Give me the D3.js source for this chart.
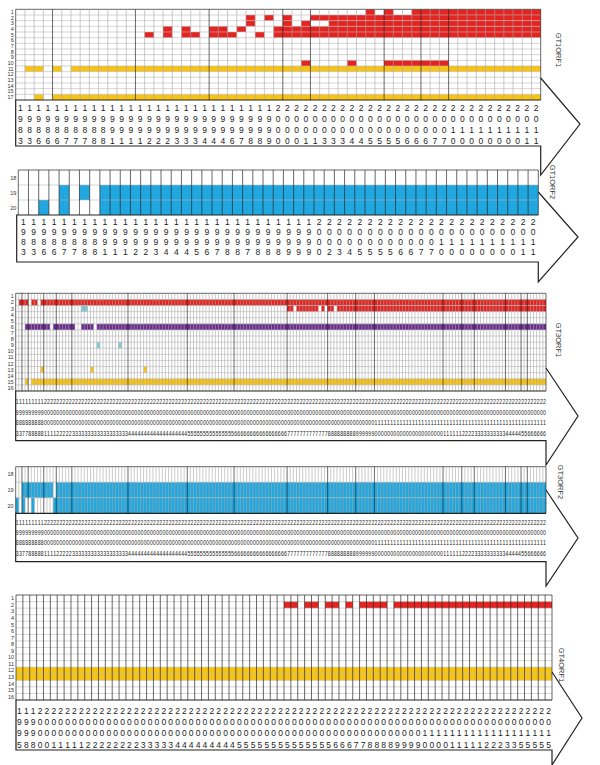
<!DOCTYPE html>
<html>
<head>
<meta charset="utf-8">
<script src="https://cdn.jsdelivr.net/npm/d3@7"></script>
<style>
  body { margin: 0; background: #fff; }
  svg { display: block; font-family: "Liberation Sans", Arial, sans-serif; }
</style>
</head>
<body>
<div class="layout"></div>
<script>
// ---- data ----
// cells are [row label, colour, first column, last column]

const gt1orf1Rows = ["1","2","3","4","5","6","7","8","9","10","11","12","13","14","15","17"];
const gt1orf1Years = [
  1983,1983,1986,1986,1986,1987,1987,1987,1988,1988,
  1991,1991,1991,1991,1992,1992,1992,1993,1993,1993,
  1994,1994,1994,1996,1997,1998,1998,1999,2000,2000,
  2000,2001,2001,2003,2003,2003,2004,2004,2005,2005,
  2005,2005,2006,2006,2006,2007,2007,2010,2010,2010,
  2010,2010,2010,2010,2010,2011,2011];
const gt1orf1Cells = [
  ["1","red",38,38], ["1","red",40,40], ["1","red",43,56],
  ["2","red",25,25], ["2","red",27,27], ["2","red",29,29], ["2","red",32,56],
  ["3","red",25,25], ["3","red",29,29], ["3","red",31,31], ["3","red",34,56],
  ["4","red",16,16], ["4","red",18,18], ["4","red",21,22], ["4","red",24,24], ["4","red",28,56],
  ["5","red",14,14], ["5","red",16,16], ["5","red",18,19], ["5","red",21,23], ["5","red",26,26], ["5","red",28,56],
  ["10","red",31,31], ["10","red",36,36], ["10","red",40,46],
  ["11","yellow",1,2], ["11","yellow",4,4], ["11","yellow",6,56],
  ["17","yellow",2,2], ["17","yellow",4,56]
];
const gt1orf1DarkLines = [0, 4, 13, 21, 29, 32, 40, 44, 47, 57];

const gt1orf2Rows = ["18","19","20"];
const gt1orf2Years = [
  1983,1983,1986,1986,1987,1987,1988,1988,1991,1991,
  1991,1992,1992,1993,1994,1994,1994,1995,1996,1997,
  1998,1998,1997,1998,1998,1998,1999,1999,1999,2000,
  2002,2003,2004,2005,2005,2005,2005,2006,2006,2007,
  2007,2010,2010,2010,2010,2010,2010,2010,2010,2011,
  2011];
const gt1orf2Cells = [
  ["19","blue",4,4], ["19","blue",6,6], ["19","blue",8,50],
  ["20","blue",2,2], ["20","blue",4,4], ["20","blue",8,50]
];

const gt3orf1Rows = ["1","2","3","4","5","6","7","8","9","10","11","12","13","14","15","16"];
const gt3orf1Years = [
  1983,1983,1987,1987,1988,1988,1988,1988,1988,2001,
  2001,2001,2001,2002,2002,2002,2002,2002,2003,2003,
  2003,2003,2003,2003,2003,2003,2003,2003,2003,2003,
  2003,2003,2003,2003,2003,2003,2004,2004,2004,2004,
  2004,2004,2004,2004,2004,2004,2004,2004,2004,2004,
  2004,2004,2004,2004,2004,2005,2005,2005,2005,2005,
  2005,2005,2005,2005,2005,2005,2005,2005,2005,2005,
  2006,2006,2006,2006,2006,2006,2006,2006,2006,2006,
  2006,2006,2006,2006,2006,2006,2006,2007,2007,2007,
  2007,2007,2007,2007,2007,2007,2007,2007,2007,2007,
  2008,2008,2008,2008,2008,2008,2008,2008,2008,2009,
  2009,2009,2009,2009,2009,2010,2010,2010,2010,2010,
  2010,2010,2010,2010,2010,2010,2010,2010,2010,2010,
  2010,2010,2010,2010,2010,2010,2010,2011,2011,2011,
  2011,2011,2011,2012,2012,2012,2012,2013,2013,2013,
  2013,2013,2013,2013,2013,2013,2013,2014,2014,2014,
  2014,2014,2015,2015,2016,2016,2016,2016,2016,2016];
const gt3orf1Cells = [
  ["2","red",1,3], ["2","red",5,6], ["2","red",8,169],
  ["3","red",87,88], ["3","red",90,96], ["3","red",98,98], ["3","red",100,101], ["3","red",103,169],
  ["3","cyan",21,22],
  ["6","purple",3,10], ["6","purple",12,18], ["6","purple",21,24], ["6","purple",26,169],
  ["9","cyan",26,26], ["9","cyan",33,33],
  ["13","yellow",8,8], ["13","yellow",24,24], ["13","yellow",41,41],
  ["15","yellow",3,3], ["15","yellow",5,169]
];

const gt3orf2Rows = ["18","19","20"];
const gt3orf2Years = gt3orf1Years;
const gt3orf2Cells = [
  ["19","blue",2,11], ["19","blue",13,169],
  ["20","blue",0,0], ["20","blue",2,2], ["20","blue",5,5], ["20","blue",12,169]
];

const gt4orf1Rows = ["1","2","3","4","5","6","7","8","9","10","11","12","13","14","15","16"];
const gt4orf1Years = [
  1995,1998,1998,2000,2000,2001,2001,2001,2001,2001,
  2002,2002,2002,2002,2002,2002,2002,2002,2003,2003,
  2003,2003,2003,2004,2004,2004,2004,2004,2004,2004,
  2004,2004,2005,2005,2005,2005,2005,2005,2005,2005,
  2005,2005,2005,2005,2005,2005,2006,2006,2006,2007,
  2007,2008,2008,2008,2008,2009,2009,2009,2009,2010,
  2010,2010,2010,2011,2011,2011,2011,2011,2012,2012,
  2012,2013,2013,2015,2015,2015,2015,2015];
const gt4orf1Cells = [
  ["2","red",39,40], ["2","red",42,43], ["2","red",45,46], ["2","red",48,48],
  ["2","red",50,53], ["2","red",55,77],
  ["12","yellow",0,77], ["13","yellow",0,77]
];

const colors = {
  red: "#e42421", yellow: "#f8c414", blue: "#20a7df",
  purple: "#6a2c8e", cyan: "#7ecbd6"
};

// ---- layout ----
const width = 600, height = 765;

const panels = [
  { name: "GT1ORF1", rows: gt1orf1Rows, years: gt1orf1Years, cells: gt1orf1Cells, dark: gt1orf1DarkLines,
    x0: 15.7, x1: 540.7, y0: 9.3, y1: 100, boxLeft: 15.7, boxBottom: 146,
    digitY: [108.3, 119, 129.5, 140.5], fs: 8.5, title: [556, 50], arrow: [78, 580, 124, 175] },
  { name: "GT1ORF2", rows: gt1orf2Rows, years: gt1orf2Years, cells: gt1orf2Cells, dark: "all",
    x0: 18.3, x1: 538.3, y0: 170, y1: 215, boxLeft: 16.7, boxBottom: 262,
    digitY: [221.7, 231.7, 241.7, 252.3], fs: 8.5, title: [550, 182], arrow: [192, 578, 237, 282] },
  { name: "GT3ORF1", rows: gt3orf1Rows, years: gt3orf1Years, cells: gt3orf1Cells, dark: "year",
    x0: 15.7, x1: 546, y0: 293.3, y1: 391, boxLeft: 15.7, boxBottom: 440.7,
    digitY: [401.5, 412, 422.5, 433], fs: 8, title: [556, 340], arrow: [368, 578, 416, 465] },
  { name: "GT3ORF2", rows: gt3orf2Rows, years: gt3orf2Years, cells: gt3orf2Cells, dark: "year",
    x0: 15.7, x1: 546, y0: 466.7, y1: 513.3, boxLeft: 15.7, boxBottom: 561.7,
    digitY: [521.7, 531.7, 542, 553], fs: 8, title: [558, 482], arrow: [490, 578, 538, 586] },
  { name: "GT4ORF1", rows: gt4orf1Rows, years: gt4orf1Years, cells: gt4orf1Cells, dark: "all",
    x0: 16, x1: 552, y0: 595, y1: 700, boxLeft: 16, boxBottom: 750,
    digitY: [711, 722, 733, 745], fs: 8.5, title: [559, 665], arrow: [672, 582, 718, 765] }
];

const svg = d3.select("div.layout")
  .append("svg")
    .attr("width", width)
    .attr("height", height);

svg.append("rect").attr("width", width).attr("height", height).attr("fill", "#fff");

panels.forEach(function (p) { drawPanel(p); });

function drawPanel(p) {
  const n = p.years.length;
  const g = svg.append("g").attr("class", p.name);

  const x = d3.scaleBand().domain(d3.range(n)).range([p.x0, p.x1]);
  const y = d3.scaleBand().domain(p.rows).range([p.y0, p.y1]);
  const bw = x.bandwidth();

  // coloured cells
  g.selectAll("rect.cell")
    .data(p.cells)
    .enter()
    .append("rect")
      .attr("class", "cell")
      .attr("x", d => x(d[2]))
      .attr("y", d => y(d[0]))
      .attr("width", d => x(d[3]) - x(d[2]) + bw)
      .attr("height", y.bandwidth())
      .attr("fill", d => colors[d[1]]);

  // horizontal grid lines
  g.selectAll("line.h")
    .data(p.rows)
    .enter()
    .append("line")
      .attr("x1", p.x0).attr("x2", p.x1)
      .attr("y1", d => y(d)).attr("y2", d => y(d))
      .attr("stroke", (d, i) => i === 0 ? "#555" : "#b8b8b8")
      .attr("stroke-width", (d, i) => i === 0 ? 0.9 : 0.6);

  // vertical grid lines
  function isDark(i) {
    if (p.dark === "all") return true;
    if (p.dark === "year") return i === 0 || i === n || p.years[i] !== p.years[i - 1];
    return p.dark.indexOf(i) >= 0;
  }
  g.selectAll("line.v")
    .data(d3.range(n + 1))
    .enter()
    .append("line")
      .attr("x1", d => p.x0 + d * bw).attr("x2", d => p.x0 + d * bw)
      .attr("y1", p.y0).attr("y2", p.y1)
      .attr("stroke", d => isDark(d) ? "#2a2a2a" : "#a8a8a8")
      .attr("stroke-width", d => isDark(d) ? 0.7 : 0.6);

  // row labels
  g.selectAll("text.row")
    .data(p.rows)
    .enter()
    .append("text")
      .attr("x", p.x0 - 2)
      .attr("y", d => y(d) + y.bandwidth() / 2 + 2)
      .attr("text-anchor", "end")
      .attr("font-size", 5.5)
      .attr("fill", "#333")
      .text(d => d);

  // box under the grid and the arrow head
  const a = p.arrow;
  g.append("path")
    .attr("d", "M" + p.x1 + "," + a[0] + "L" + a[1] + "," + a[2] + "L" + p.x1 + "," + a[3] +
               "L" + p.x1 + "," + p.boxBottom + "L" + p.boxLeft + "," + p.boxBottom +
               "L" + p.boxLeft + "," + p.y1 + "L" + p.x1 + "," + p.y1)
    .attr("fill", "none")
    .attr("stroke", "#222")
    .attr("stroke-width", 1.2);

  // year digits, one digit per line
  const digits = [];
  p.years.forEach(function (yr, i) {
    String(yr).split("").forEach(function (ch, k) {
      digits.push({ col: i, line: k, ch: ch });
    });
  });
  const sx = Math.min(1, bw * 0.92 / (p.fs * 0.556));
  g.selectAll("text.digit")
    .data(digits)
    .enter()
    .append("text")
      .attr("class", "digit")
      .attr("transform", d => "translate(" + (x(d.col) + bw / 2) + "," + (p.digitY[d.line] + p.fs * 0.36) + ") scale(" + sx + ",1)")
      .attr("text-anchor", "middle")
      .attr("font-size", p.fs)
      .attr("fill", "#222")
      .text(d => d.ch);

  // panel name
  g.append("text")
    .attr("transform", "translate(" + p.title[0] + "," + p.title[1] + ") rotate(90)")
    .attr("text-anchor", "middle")
    .attr("font-size", 7.5)
    .attr("fill", "#333")
    .text(p.name);
}
</script>
</body>
</html>
